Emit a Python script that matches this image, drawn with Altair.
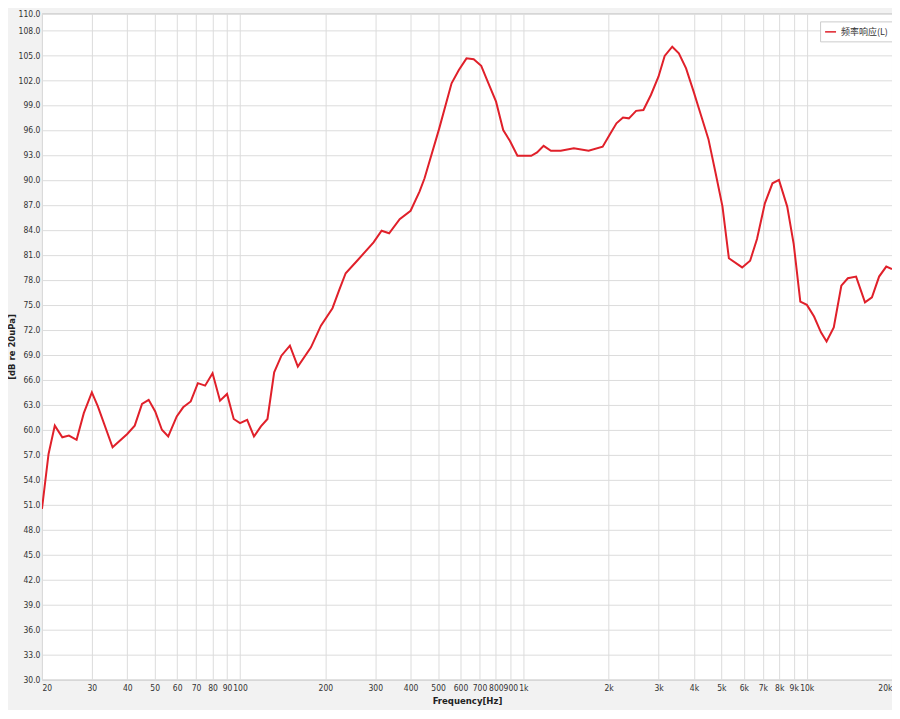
import altair as alt
import pandas as pd

freq_hz = [20, 21.1, 22.2, 23.6, 24.9, 26.5, 28.1, 30, 31.5, 35.5, 40, 42.5, 45.1, 47.6, 50.2,
           53, 55.8, 59.8, 63, 67, 71, 75.3, 80, 85, 90, 95, 100, 106, 112, 118.5, 125, 132,
           140, 150, 160, 178, 193, 212, 224, 236, 259, 296, 316, 336, 366, 400, 430, 448,
           504, 558, 592, 630, 668, 710, 753, 801, 849, 896, 953, 1066, 1118, 1179, 1251,
           1355, 1507, 1699, 1905, 2021, 2131, 2247, 2358, 2500, 2653, 2819, 2998, 3153,
           3353, 3538, 3752, 3990, 4241, 4500, 4771, 5044, 5313, 5918, 6314, 6677, 7118,
           7571, 7981, 8535, 8998, 9494, 10014, 10616, 11228, 11752, 12460, 13250, 13970,
           14940, 16060, 16990, 18010, 19090, 20000]
level_db = [50.5, 57.1, 60.5, 59.1, 59.3, 58.8, 62.0, 64.5, 62.8, 57.9, 59.5, 60.5, 63.1, 63.6,
            62.2, 60.0, 59.2, 61.6, 62.7, 63.4, 65.6, 65.3, 66.8, 63.5, 64.3, 61.3, 60.8, 61.2,
            59.2, 60.4, 61.3, 66.9, 68.9, 70.1, 67.6, 69.9, 72.5, 74.6, 76.8, 78.8, 80.3, 82.5,
            83.9, 83.6, 85.3, 86.3, 88.6, 90.2, 96.1, 101.6, 103.2, 104.6, 104.5, 103.7, 101.6,
            99.4, 96.0, 94.7, 92.9, 92.9, 93.3, 94.1, 93.5, 93.5, 93.8, 93.5, 94.0, 95.5, 96.8,
            97.5, 97.4, 98.3, 98.4, 100.2, 102.4, 104.9, 106.0, 105.2, 103.4, 100.6, 97.7, 94.9,
            90.8, 86.8, 80.6, 79.5, 80.3, 82.9, 87.2, 89.6, 90.0, 86.8, 82.3, 75.4, 75.0, 73.6,
            71.7, 70.6, 72.3, 77.3, 78.2, 78.4, 75.3, 75.9, 78.4, 79.6, 79.3]
series_name = "频率响应(L)"

x_ticks = [20, 30, 40, 50, 60, 70, 80, 90, 100, 200, 300, 400, 500, 600, 700, 800, 900,
           1000, 2000, 3000, 4000, 5000, 6000, 7000, 8000, 9000, 10000, 20000]
y_ticks = [30, 33, 36, 39, 42, 45, 48, 51, 54, 57, 60, 63, 66, 69, 72, 75, 78, 81, 84, 87,
           90, 93, 96, 99, 102, 105, 108, 110]

df = pd.DataFrame({"f": freq_hz, "db": level_db, "s": [series_name] * len(freq_hz)})

label_font = "DejaVu Sans Condensed"

chart = alt.Chart(df).mark_line(strokeWidth=2, clip=True).encode(
    x=alt.X("f:Q",
            scale=alt.Scale(type="log", domain=[20, 20000], nice=False),
            axis=alt.Axis(values=x_ticks, title="Frequency[Hz]",
                          labelExpr="datum.value >= 1000 ? format(datum.value/1000, 'd') + 'k' : format(datum.value, 'd')",
                          labelFont=label_font, labelFontSize=8.5, labelColor="#333333",
                          labelPadding=4, ticks=False, domain=False, labelOverlap=False,
                          titleFont="DejaVu Sans Condensed", titleFontSize=9.5, titleFontWeight="bold",
                          titleColor="#222222", titlePadding=3,
                          gridColor="#dcdcdc", gridWidth=1)),
    y=alt.Y("db:Q",
            scale=alt.Scale(domain=[30, 110], nice=False, zero=False),
            axis=alt.Axis(values=y_ticks, format=".1f", title="[dB re 20uPa]",
                          labelFont=label_font, labelFontSize=8.5, labelColor="#333333",
                          labelPadding=2, ticks=False, domain=False, labelOverlap=False,
                          titleFont="DejaVu Sans", titleFontSize=8.5, titleFontWeight="bold",
                          titleColor="#222222", titlePadding=2,
                          gridColor="#dcdcdc", gridWidth=1)),
    color=alt.Color("s:N", scale=alt.Scale(range=["#e0202a"]),
                    legend=alt.Legend(title=None, orient="none", legendX=779, legendY=8,
                                      symbolType="stroke", symbolStrokeWidth=1.5, symbolSize=120,
                                      labelFont="Noto Sans CJK SC", labelFontSize=9,
                                      labelColor="#333333", fillColor="white",
                                      strokeColor="#cccccc", padding=4, cornerRadius=0)),
).properties(
    width=851, height=667,
    padding={"left": 34, "top": 5, "right": 0, "bottom": 30},
    autosize=alt.AutoSizeParams(type="none"),
    background="#f2f2f2",
).configure_view(stroke="#b8b8b8", fill="white")

chart.save("out.html", embed_options={"renderer": "svg", "actions": False})
